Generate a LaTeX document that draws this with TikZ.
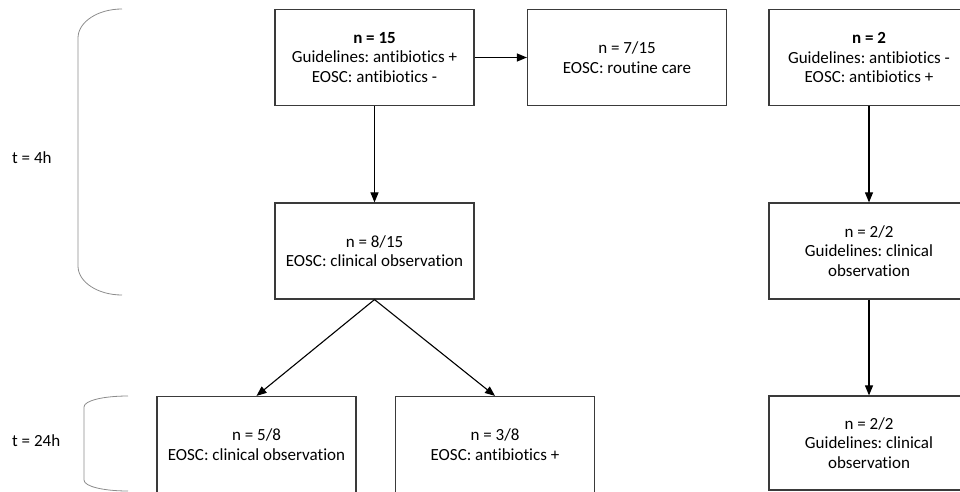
\documentclass[tikz,border=0pt]{standalone}
\usepackage{fontspec}
\setmainfont{Carlito}[Ligatures={NoCommon}]
\usetikzlibrary{arrows.meta}
\definecolor{boxgray}{HTML}{3A3A3A}
\definecolor{bracegray}{HTML}{8C8C8C}
\frenchspacing
\begin{document}
\begin{tikzpicture}[x=1pt,y=-1pt,
  box/.style={draw=boxgray, line width=1.2pt, minimum width=199pt, minimum height=96pt,
    align=center, inner sep=0pt, font=\fontsize{17}{19.5}\selectfont\frenchspacing},
  lbl/.style={anchor=west, inner sep=0pt, font=\fontsize{17}{19.5}\selectfont},
  conn/.style={line width=1.1pt, draw=black, -{Triangle[length=10pt,width=8pt]}},
  brace/.style={draw=bracegray, line width=0.8pt}]
\useasboundingbox (0,0) rectangle (960,492);
% boxes
\node[box] (A) at (374.5,57.5) {\textbf{n = 15}\\Guidelines: antibiotics +\\EOSC: antibiotics -};
\node[box] (B) at (627,57.5) {n = 7/15\\EOSC: routine care};
\node[box, minimum width=200pt] (C) at (869,57.5) {\textbf{n = 2}\\Guidelines: antibiotics -\\EOSC: antibiotics +};
\node[box] (D) at (374.5,251) {n = 8/15\\EOSC: clinical observation};
\node[box, minimum width=200pt] (E) at (869,251) {n = 2/2\\Guidelines: clinical\\observation};
\node[box] (F) at (256.5,444.5) {n = 5/8\\EOSC: clinical observation};
\node[box] (G) at (495,444.5) {n = 3/8\\EOSC: antibiotics +};
\node[box, minimum width=200pt, minimum height=94pt] (H) at (869,443) {n = 2/2\\Guidelines: clinical\\observation};
% connectors
\draw[conn] (A.east) -- (B.west);
\draw[conn] (A.south) -- (D.north);
\draw[conn] (C.south) -- (E.north);
\draw[conn] (E.south) -- (H.north);
\draw[conn] (D.south) -- (F.north);
\draw[conn] (D.south) -- (G.north);
% time labels
\node[lbl] (t4) at (12,158) {t = 4h};
\node[lbl] (t24) at (12,441) {t = 24h};
% braces
\draw[brace] (122,9) .. controls (97.7,9) and (78,22) .. (78,38) -- (78,266)
  .. controls (78,282) and (97.7,295) .. (122,295);
\draw[brace] (128,396) .. controls (103.7,396) and (84,400.5) .. (84,407) -- (84,480)
  .. controls (84,486.5) and (103.7,491) .. (128,491);
\end{tikzpicture}
\end{document}
